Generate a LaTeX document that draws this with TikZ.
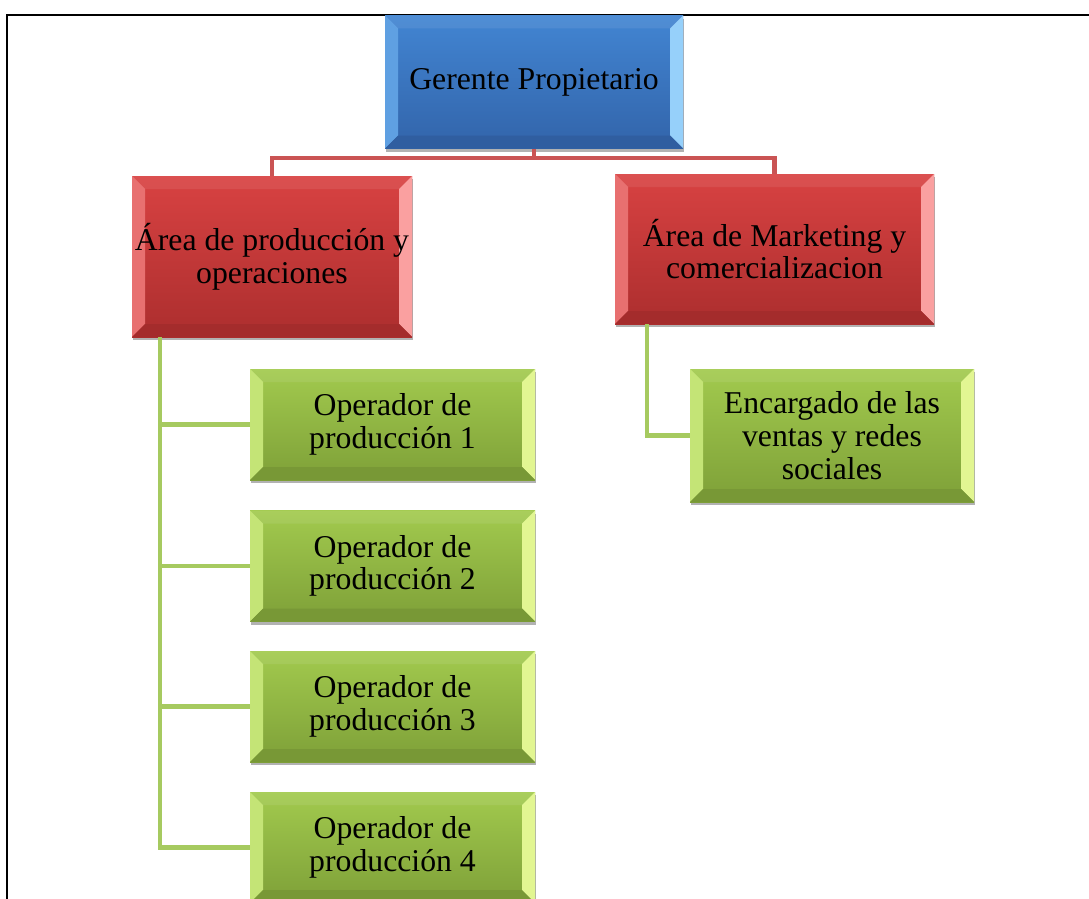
\documentclass[tikz,border=0pt]{standalone}
\usepackage{fontspec}
\setmainfont{Liberation Serif}
\usetikzlibrary{calc,shadows}

\definecolor{azulA}{RGB}{66,133,210}
\definecolor{azulB}{RGB}{50,100,170}
\definecolor{azulL}{RGB}{95,160,226}
\definecolor{azulR}{RGB}{150,208,250}
\definecolor{azulD}{RGB}{48,94,160}
\definecolor{rojoA}{RGB}{216,66,66}
\definecolor{rojoB}{RGB}{172,46,46}
\definecolor{rojoL}{RGB}{232,112,112}
\definecolor{rojoR}{RGB}{250,160,160}
\definecolor{rojoD}{RGB}{164,44,44}
\definecolor{verdeA}{RGB}{162,202,78}
\definecolor{verdeB}{RGB}{126,160,56}
\definecolor{verdeL}{RGB}{196,228,118}
\definecolor{verdeR}{RGB}{226,246,146}
\definecolor{verdeD}{RGB}{120,152,54}
\definecolor{lineaRoja}{RGB}{202,84,84}
\definecolor{lineaVerde}{RGB}{166,202,96}

\tikzset{every picture/.style={line width=0.75pt}}
\tikzset{
  caja/.style 2 args={rectangle, inner sep=0pt, align=center,
    minimum width={#1*0.75pt}, minimum height={#2*0.75pt},
    font=\fontsize{23.8}{24.5}\selectfont,
    drop shadow={shadow xshift=1pt, shadow yshift=-2.5pt, opacity=0.3, fill=black}},
  bisel/.style n args={3}{path picture={
    \fill[#1] (path picture bounding box.north west) -- ++(13,-13) |- ($(path picture bounding box.south west)+(13,13)$) -- (path picture bounding box.south west) -- cycle;
    \fill[#2] (path picture bounding box.north east) -- ++(-13,-13) |- ($(path picture bounding box.south east)+(-13,13)$) -- (path picture bounding box.south east) -- cycle;
    \fill[#3] (path picture bounding box.south west) -- ++(13,13) -- ($(path picture bounding box.south east)+(-13,13)$) -- (path picture bounding box.south east) -- cycle;
    \fill[white, opacity=0.08] (path picture bounding box.north west) -- ++(13,-13) -- ($(path picture bounding box.north east)+(-13,-13)$) -- (path picture bounding box.north east) -- cycle;
  }},
  cajaazul/.style={top color=azulA, bottom color=azulB, bisel={azulL}{azulR}{azulD}},
  cajaroja/.style={top color=rojoA, bottom color=rojoB, bisel={rojoL}{rojoR}{rojoD}},
  cajaverde/.style={top color=verdeA, bottom color=verdeB, bisel={verdeL}{verdeR}{verdeD}},
  conroja/.style={draw=lineaRoja, line width=3.2pt},
  converde/.style={draw=lineaVerde, line width=3.2pt},
}

\begin{document}
\begin{tikzpicture}[x=0.75pt,y=0.75pt,yscale=-1,xscale=1]
	\useasboundingbox (0,0) rectangle (1089,899);

	% Marco
	\draw [line width=1.8pt] (7,910) -- (7,15) -- (1095,15) ;

	% Gerente
	\node [caja={298}{133}, cajaazul] (gerente) at (534,82) {Gerente Propietario};
	% Areas
	\node [caja={280}{161}, cajaroja] (produccion) at (272,256.5) {Área de producción y\\operaciones};
	\node [caja={319}{150}, cajaroja] (marketing) at (774.5,249) {Área de Marketing y\\comercializacion};
	% Operadores
	\node [caja={285}{111}, cajaverde] (op1) at (392.5,424.5) {Operador de\\producción 1};
	\node [caja={285}{111}, cajaverde] (op2) at (392.5,566) {Operador de\\producción 2};
	\node [caja={285}{111}, cajaverde] (op3) at (392.5,706.5) {Operador de\\producción 3};
	\node [caja={285}{111}, cajaverde] (op4) at (392.5,847.5) {Operador de\\producción 4};
	% Ventas
	\node [caja={284}{133}, cajaverde] (ventas) at (832,435.5) {Encargado de las\\ventas y redes\\sociales};

	% Conectores
	\coordinate (bus) at (534,158);
	\draw [conroja] (gerente.south) -- (bus) -| (produccion.north);
	\draw [conroja] (bus) -| (marketing.north);
	\coordinate (troncoP) at (160,337);
	\foreach \n in {op1,op2,op3,op4}
	  \draw [converde] (troncoP) |- (\n.west);
	\coordinate (troncoM) at (647,324);
	\draw [converde] (troncoM) |- (ventas.west);

\end{tikzpicture}
\end{document}
